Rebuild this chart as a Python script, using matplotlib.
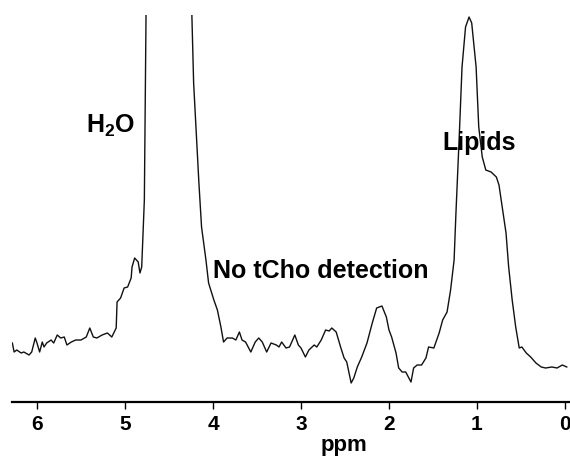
import matplotlib
matplotlib.use("Agg")
import matplotlib.pyplot as plt

# -------------------------------------------------------------
# espectro (ppm, intensidade em u.a.)
# -------------------------------------------------------------
ppm = [
    6.28, 6.26, 6.23, 6.18, 6.15, 6.09, 6.06, 6.02, 6.00, 5.97,
    5.94, 5.92, 5.89, 5.84, 5.81, 5.77, 5.73, 5.69, 5.66, 5.61,
    5.56, 5.50, 5.44, 5.40, 5.36, 5.32, 5.26, 5.20, 5.15, 5.10,
    5.09, 5.05, 5.01, 4.97, 4.93, 4.92, 4.89, 4.85, 4.83, 4.81,
    4.78, 4.76, 4.50, 4.24, 4.22, 4.19, 4.16, 4.13, 4.08, 4.05,
    3.99, 3.95, 3.91, 3.88, 3.84, 3.78, 3.74, 3.70, 3.67, 3.63,
    3.57, 3.52, 3.48, 3.44, 3.39, 3.34, 3.28, 3.25, 3.22, 3.17,
    3.13, 3.07, 3.03, 3.00, 2.95, 2.91, 2.85, 2.82, 2.77, 2.72,
    2.68, 2.65, 2.60, 2.55, 2.51, 2.48, 2.43, 2.40, 2.36, 2.31,
    2.25, 2.19, 2.14, 2.08, 2.03, 2.00, 1.97, 1.92, 1.89, 1.85,
    1.81, 1.75, 1.72, 1.68, 1.63, 1.58, 1.55, 1.49, 1.43, 1.39,
    1.34, 1.30, 1.26, 1.24, 1.20, 1.17, 1.13, 1.09, 1.06, 1.01,
    0.98, 0.94, 0.90, 0.84, 0.78, 0.75, 0.72, 0.67, 0.64, 0.60,
    0.56, 0.52, 0.49, 0.44, 0.39, 0.33, 0.27, 0.22, 0.15, 0.09,
    0.03, -0.02,
]
intensidade = [
    60, 51, 53, 50, 51, 48, 51, 65, 60, 51,
    61, 56, 60, 63, 60, 68, 65, 66, 58, 61,
    63, 63, 66, 75, 66, 65, 68, 70, 66, 75,
    101, 105, 115, 116, 125, 136, 145, 141, 130, 136,
    203, 388, 6000, 388, 320, 270, 220, 176, 143, 120,
    103, 93, 76, 61, 65, 65, 63, 71, 63, 61,
    51, 61, 65, 61, 51, 60, 58, 56, 61, 55,
    56, 68, 58, 55, 46, 53, 58, 56, 63, 73,
    72, 75, 71, 56, 45, 41, 20, 25, 36, 46,
    60, 80, 95, 97, 86, 73, 66, 50, 35, 31,
    31, 21, 35, 38, 38, 45, 56, 55, 70, 83,
    91, 113, 143, 188, 270, 336, 376, 386, 380, 336,
    276, 246, 233, 231, 226, 218, 200, 170, 136, 103,
    76, 55, 56, 50, 46, 40, 36, 35, 36, 35,
    38, 36,
]

ticks_ppm = [6, 5, 4, 3, 2, 1, 0]

# anotações: (texto, ppm, intensidade da linha de base do texto)
anotacoes = [
    ("H$\\mathregular{_2}$O", 5.44, 270),
    ("No tCho detection", 4.00, 125),
    ("Lipids", 1.39, 253),
]

plt.rcParams["font.family"] = ["Liberation Sans", "DejaVu Sans"]
plt.rcParams["mathtext.fontset"] = "custom"
plt.rcParams["mathtext.rm"] = "Liberation Sans:bold"

fig = plt.figure(figsize=(5.70, 4.57), dpi=100)
ax = fig.add_axes([12 / 570, 55 / 457, 558 / 570, 387 / 457])

ax.plot(ppm, intensidade, color="#111111", linewidth=1.0)

ax.set_xlim(6.284, -0.057)
ax.set_ylim(1, 388)

# só o eixo x, como no espectro original
for lado in ["top", "left", "right"]:
    ax.spines[lado].set_visible(False)
ax.spines["bottom"].set_linewidth(1.6)
ax.set_yticks([])
ax.set_xticks(ticks_ppm)
ax.set_xticklabels([str(t) for t in ticks_ppm], fontsize=15, fontweight="bold")
ax.tick_params(axis="x", direction="out", length=5, width=1.0, pad=4)

ax.set_xlabel("ppm", fontsize=16, fontweight="bold")
ax.xaxis.set_label_coords(0.595, -0.085)

for texto, x, y in anotacoes:
    ax.text(x, y, texto, fontsize=18, fontweight="bold", ha="left",
            va="baseline", color="black")

fig.savefig("out.png", dpi=100)
